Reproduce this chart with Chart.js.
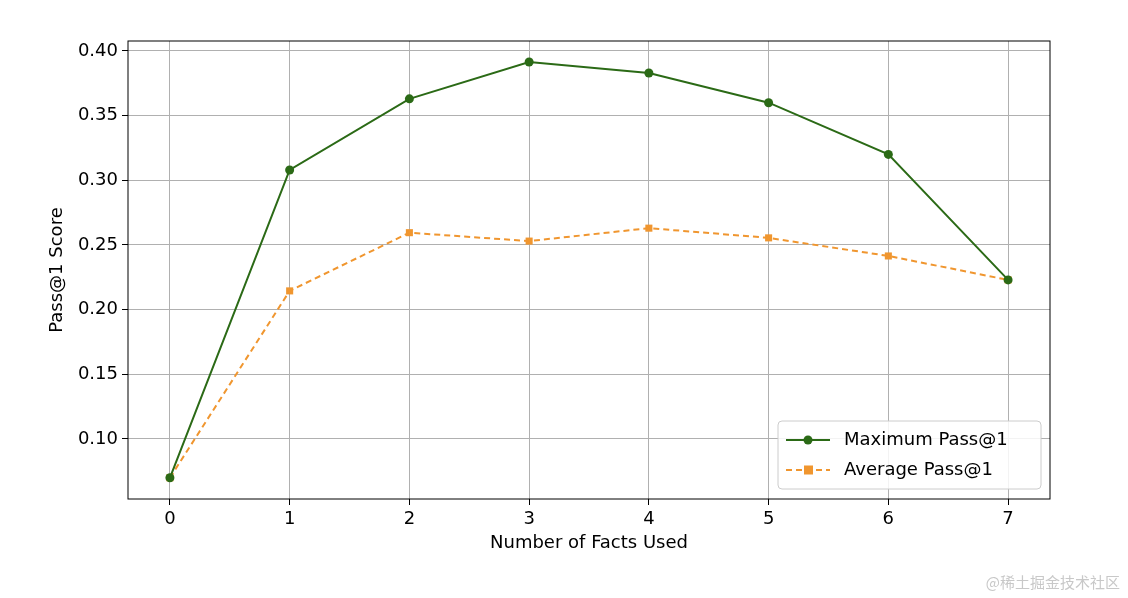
<!DOCTYPE html>
<html>
<head>
<meta charset="utf-8">
<script src="https://cdn.jsdelivr.net/npm/chart.js@4"></script>
<style>
  body { margin: 0; background: #fff; }
  #wrap { position: relative; width: 1128px; height: 598px; }
  #mark { position: absolute; right: 8px; bottom: 6px; font: 15px "Noto Sans CJK SC", sans-serif; color: #c8c8c8; }
</style>
</head>
<body>
<div id="wrap">
  <canvas id="grafico" width="1128" height="598"></canvas>
  <div id="mark">@稀土掘金技术社区</div>
</div>
<script>
const factsUsed = [0, 1, 2, 3, 4, 5, 6, 7];
const maxPass = [0.070, 0.308, 0.363, 0.3915, 0.383, 0.360, 0.320, 0.223];
const avgPass = [0.070, 0.2145, 0.2595, 0.253, 0.263, 0.2555, 0.2415, 0.223];
const yTicks = [0.10, 0.15, 0.20, 0.25, 0.30, 0.35, 0.40];
const xTitle = "Number of Facts Used";
const yTitle = "Pass@1 Score";

const verde = "#2b6a16";
const laranja = "#f0962f";
const fonte = { family: "DejaVu Sans", size: 18 };

// borda preta, titulos dos eixos e legenda dentro do grafico
const extras = {
    id: "extras",
    afterDraw(chart) {
        const c = chart.ctx, a = chart.chartArea;
        c.save();
        c.strokeStyle = "#000";
        c.lineWidth = 1;
        c.strokeRect(a.left, a.top, a.right - a.left, a.bottom - a.top);

        c.fillStyle = "#000";
        c.font = "18px DejaVu Sans";
        c.textAlign = "center";
        c.textBaseline = "middle";
        c.fillText(xTitle, (a.left + a.right) / 2, 543);
        c.save();
        c.translate(57, (a.top + a.bottom) / 2);
        c.rotate(-Math.PI / 2);
        c.fillText(yTitle, 0, 0);
        c.restore();
        c.textAlign = "left";

        const bx = 778, by = 421, bw = 263, bh = 68;
        c.fillStyle = "rgba(255,255,255,0.85)";
        c.strokeStyle = "#cccccc";
        c.beginPath();
        c.roundRect(bx, by, bw, bh, 4);
        c.fill();
        c.stroke();

        const items = [
            { label: "Maximum Pass@1", color: verde, dash: [], shape: "circle", y: by + 19 },
            { label: "Average Pass@1", color: laranja, dash: [6, 4], shape: "square", y: by + 49 }
        ];
        items.forEach(it => {
            c.strokeStyle = it.color;
            c.lineWidth = 2;
            c.setLineDash(it.dash);
            c.beginPath();
            c.moveTo(bx + 8, it.y);
            c.lineTo(bx + 52, it.y);
            c.stroke();
            c.setLineDash([]);
            c.fillStyle = it.color;
            if (it.shape === "circle") {
                c.beginPath();
                c.arc(bx + 30, it.y, 4.5, 0, Math.PI * 2);
                c.fill();
            } else {
                c.fillRect(bx + 26, it.y - 4.5, 9, 9);
            }
            c.fillStyle = "#000";
            c.fillText(it.label, bx + 66, it.y);
        });
        c.restore();
    }
};

new Chart(document.getElementById("grafico").getContext("2d"), {
    type: "line",
    data: {
        labels: factsUsed,
        datasets: [
            {
                label: "Maximum Pass@1",
                data: factsUsed.map((x, i) => ({ x: x, y: maxPass[i] })),
                borderColor: verde,
                backgroundColor: verde,
                borderWidth: 2,
                pointStyle: "circle",
                pointRadius: 4.5,
                pointBorderWidth: 0,
                tension: 0
            },
            {
                label: "Average Pass@1",
                data: factsUsed.map((x, i) => ({ x: x, y: avgPass[i] })),
                borderColor: laranja,
                backgroundColor: laranja,
                borderWidth: 2,
                borderDash: [6, 4],
                pointStyle: "rect",
                pointRadius: 5,
                pointBorderWidth: 0,
                tension: 0
            }
        ]
    },
    options: {
        responsive: false,
        animation: false,
        layout: { padding: { top: 41, right: 78, left: 0, bottom: 0 } },
        plugins: { legend: { display: false }, tooltip: { enabled: false } },
        scales: {
            x: {
                type: "linear",
                min: -0.35,
                max: 7.35,
                afterBuildTicks: s => { s.ticks = factsUsed.map(v => ({ value: v })); },
                afterFit: s => { s.height = 99; },
                grid: { color: "#b0b0b0", tickLength: 6, tickColor: "#000" },
                border: { display: false },
                ticks: { color: "#000", font: fonte, padding: 4 }
            },
            y: {
                min: 0.0536,
                max: 0.4077,
                afterBuildTicks: s => { s.ticks = yTicks.map(v => ({ value: v })); },
                afterFit: s => { s.width = 128; },
                grid: { color: "#b0b0b0", tickLength: 6, tickColor: "#000" },
                border: { display: false },
                ticks: { color: "#000", font: fonte, padding: 4, callback: v => v.toFixed(2) }
            }
        }
    },
    plugins: [extras]
});
</script>
</body>
</html>
